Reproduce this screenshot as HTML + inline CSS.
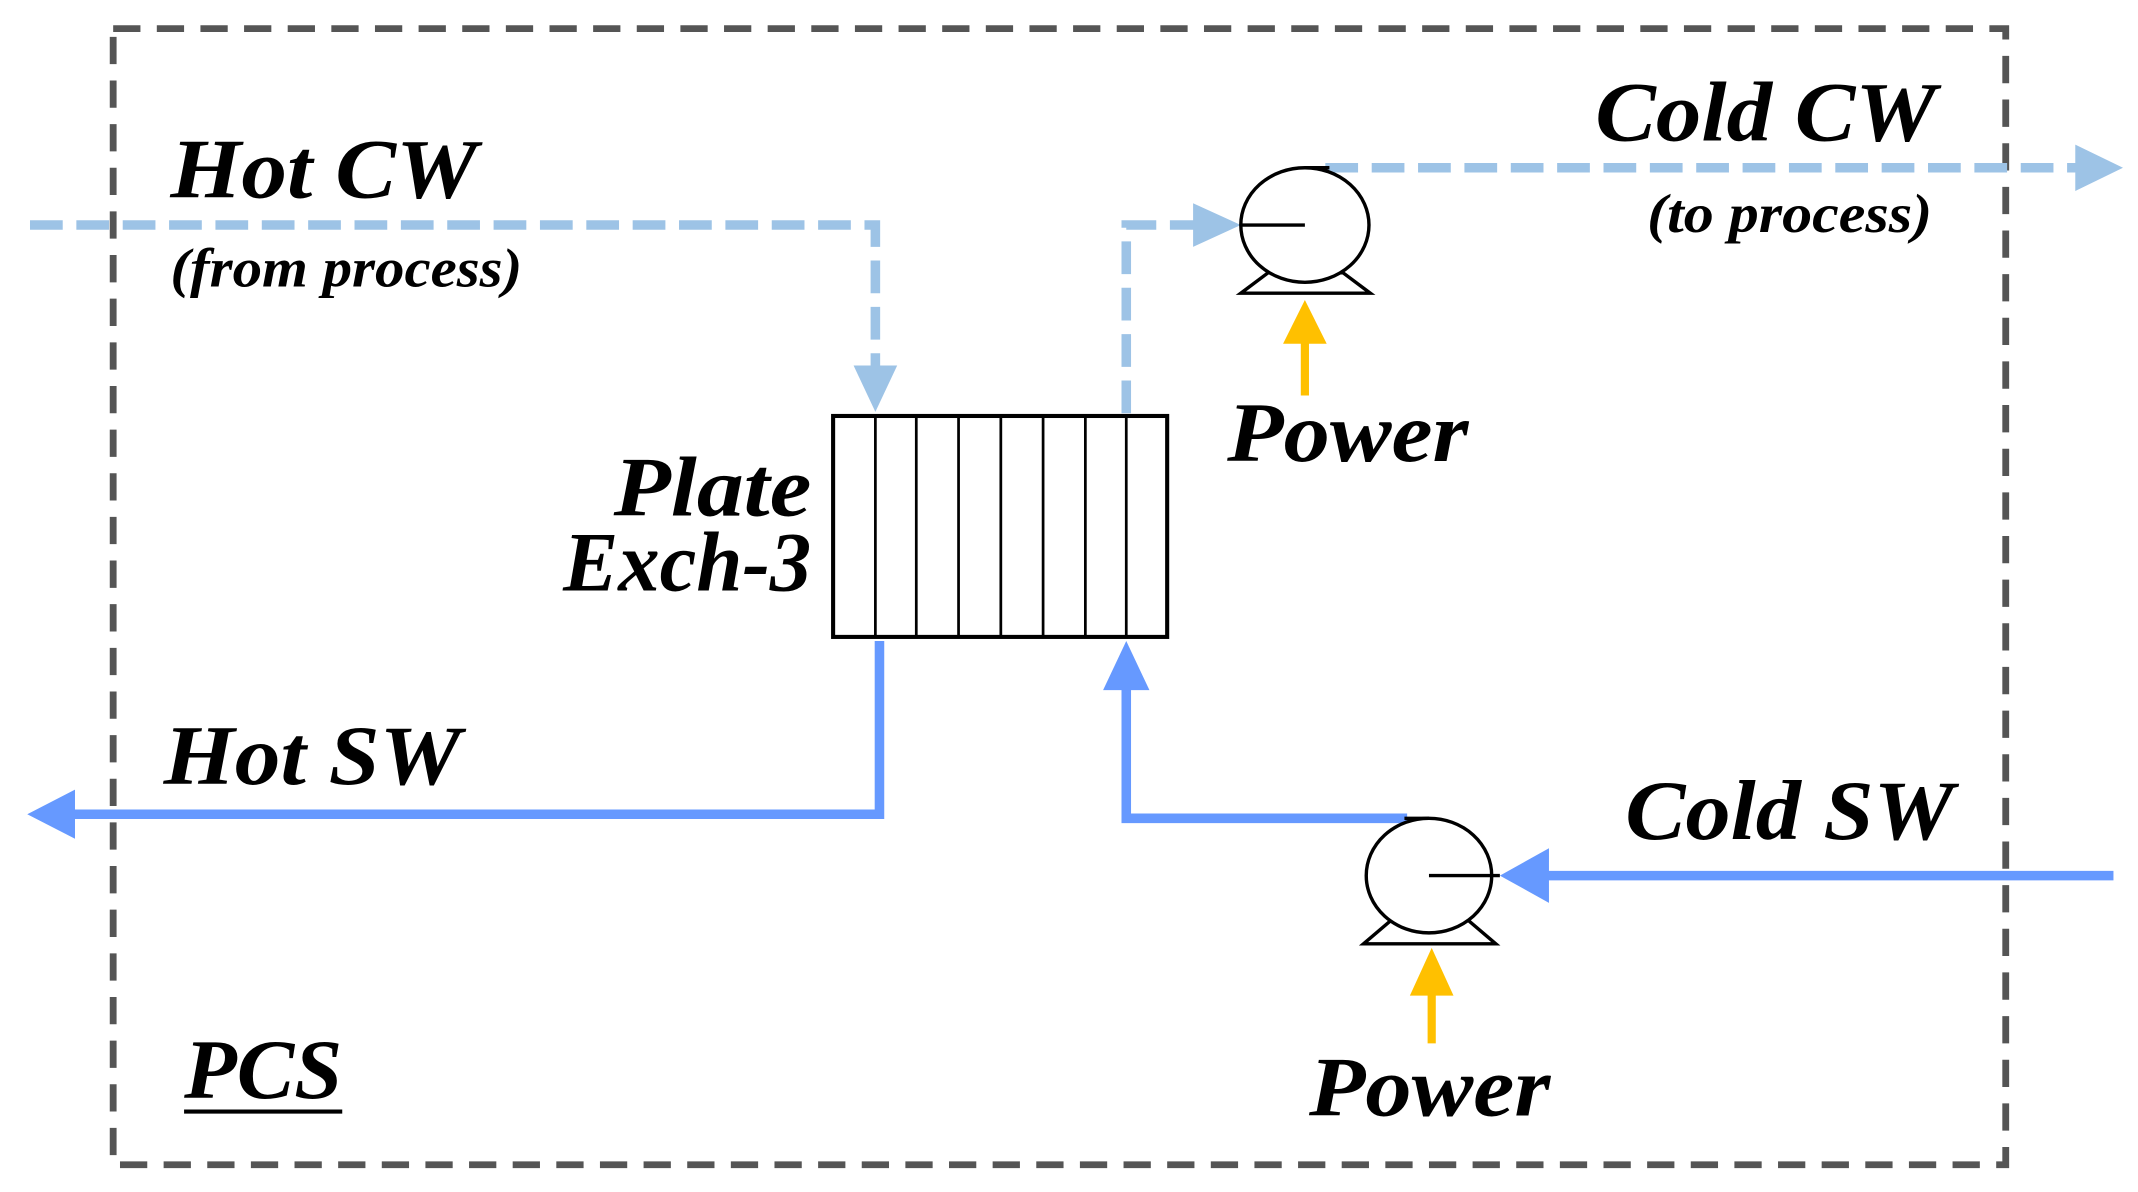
<!DOCTYPE html>
<html><head><meta charset="utf-8"><style>
html,body{margin:0;padding:0;background:#fff;}
svg{display:block;}
text{font-family:"Liberation Serif",serif;font-style:italic;font-weight:bold;fill:#000;}
</style></head><body>
<svg width="2138" height="1192" viewBox="0 0 1568 874" preserveAspectRatio="none" xmlns="http://www.w3.org/2000/svg">
<rect x="83" y="21" width="1388" height="833" fill="none" stroke="#555" stroke-width="5" stroke-dasharray="20 12"/>
<polyline points="22,165 642,165 642,272" fill="none" stroke="#9dc3e6" stroke-width="7" stroke-dasharray="24 10"/>
<polygon points="626,268 658,268 642,302" fill="#9dc3e6"/>
<polyline points="826,303 826,165 878,165" fill="none" stroke="#9dc3e6" stroke-width="7" stroke-dasharray="24 10"/>
<polygon points="875,149 875,181 910,165" fill="#9dc3e6"/>
<line x1="972" y1="123" x2="1525" y2="123" stroke="#9dc3e6" stroke-width="7" stroke-dasharray="24 10"/>
<polygon points="1522,106 1522,140 1557,123" fill="#9dc3e6"/>
<rect x="611" y="305" width="245" height="162" fill="#fff" stroke="#000" stroke-width="3"/>
<g stroke="#000" stroke-width="2">
<line x1="642" y1="305" x2="642" y2="467"/><line x1="672" y1="305" x2="672" y2="467"/>
<line x1="703" y1="305" x2="703" y2="467"/><line x1="734" y1="305" x2="734" y2="467"/>
<line x1="765" y1="305" x2="765" y2="467"/><line x1="796" y1="305" x2="796" y2="467"/>
<line x1="826" y1="305" x2="826" y2="467"/>
</g>
<polygon points="910,215 1005,215 985,200 930,200" fill="#fff" stroke="#000" stroke-width="2.5"/>
<ellipse cx="957" cy="165" rx="47" ry="42" fill="#fff" stroke="#000" stroke-width="2.5"/>
<line x1="910" y1="165" x2="957" y2="165" stroke="#000" stroke-width="2.5"/>
<line x1="957" y1="123" x2="975" y2="123" stroke="#000" stroke-width="2.5"/>
<line x1="957" y1="290" x2="957" y2="248" stroke="#ffc000" stroke-width="6"/>
<polygon points="941,252 973,252 957,220" fill="#ffc000"/>
<polyline points="645,470 645,597 55,597" fill="none" stroke="#6699ff" stroke-width="7"/>
<polygon points="55,579 55,615 20,597" fill="#6699ff"/>
<polyline points="1032,600 826,600 826,503" fill="none" stroke="#6699ff" stroke-width="7"/>
<polygon points="809,506 843,506 826,470" fill="#6699ff"/>
<polygon points="1000,692 1097,692 1077,675 1020,675" fill="#fff" stroke="#000" stroke-width="2.5"/>
<ellipse cx="1048" cy="642" rx="46" ry="42" fill="#fff" stroke="#000" stroke-width="2.5"/>
<line x1="1048" y1="642" x2="1100" y2="642" stroke="#000" stroke-width="2.5"/>
<line x1="1030" y1="600" x2="1048" y2="600" stroke="#000" stroke-width="2.5"/>
<line x1="1550" y1="642" x2="1132" y2="642" stroke="#6699ff" stroke-width="7"/>
<polygon points="1136,622 1136,662 1100,642" fill="#6699ff"/>
<line x1="1050" y1="765" x2="1050" y2="726" stroke="#ffc000" stroke-width="6"/>
<polygon points="1034,730 1066,730 1050,695" fill="#ffc000"/>
<text x="125" y="145" font-size="62" textLength="225" lengthAdjust="spacingAndGlyphs">Hot CW</text>
<text x="125" y="210" font-size="40" textLength="258" lengthAdjust="spacingAndGlyphs">(from process)</text>
<text x="1170" y="103" font-size="62" textLength="250" lengthAdjust="spacingAndGlyphs">Cold CW</text>
<text x="1208" y="170" font-size="40" textLength="209" lengthAdjust="spacingAndGlyphs">(to process)</text>
<text x="900" y="338" font-size="62" textLength="177" lengthAdjust="spacingAndGlyphs">Power</text>
<text x="450" y="378" font-size="62" textLength="145" lengthAdjust="spacingAndGlyphs">Plate</text>
<text x="413" y="433" font-size="62" textLength="182" lengthAdjust="spacingAndGlyphs">Exch-3</text>
<text x="120" y="575" font-size="62" textLength="218" lengthAdjust="spacingAndGlyphs">Hot SW</text>
<text x="1192" y="615" font-size="62" textLength="241" lengthAdjust="spacingAndGlyphs">Cold SW</text>
<text x="960" y="818" font-size="62" textLength="177" lengthAdjust="spacingAndGlyphs">Power</text>
<text x="135" y="805" font-size="62" textLength="116" lengthAdjust="spacingAndGlyphs">PCS</text>
<line x1="135" y1="815" x2="251" y2="815" stroke="#000" stroke-width="3"/>
</svg>
</body></html>
